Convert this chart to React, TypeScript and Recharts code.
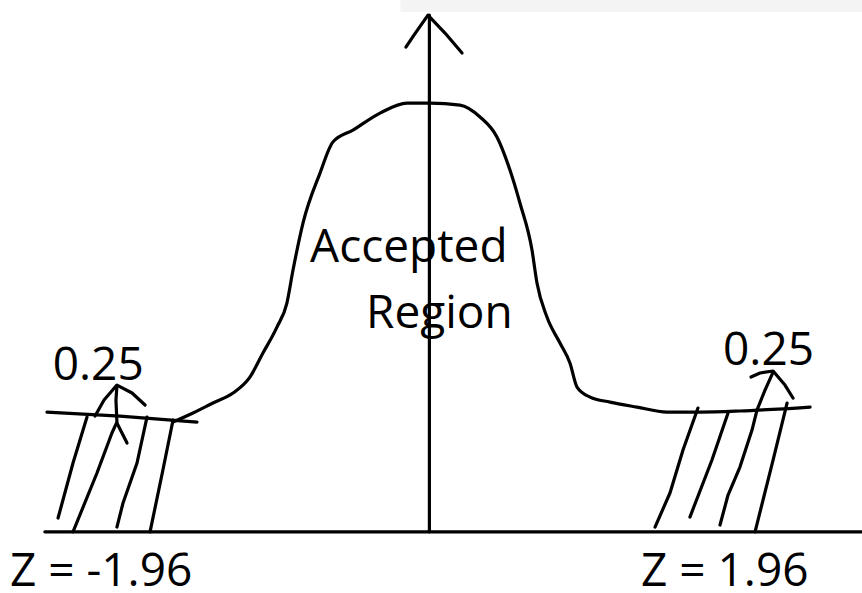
import { LineChart, Line, XAxis, YAxis, ReferenceDot, ReferenceArea } from 'recharts';

// x is z-score, y is density
const bellCurve = [
  { x: -1.594, y: 0.1032 }, { x: -1.47, y: 0.1117 }, { x: -1.346, y: 0.1211 },
  { x: -1.221, y: 0.1305 }, { x: -1.116, y: 0.1455 }, { x: -1.035, y: 0.1681 },
  { x: -0.948, y: 0.1925 }, { x: -0.886, y: 0.2151 }, { x: -0.848, y: 0.2461 },
  { x: -0.786, y: 0.2903 }, { x: -0.68, y: 0.3373 }, { x: -0.6, y: 0.3665 },
  { x: -0.475, y: 0.3777 }, { x: -0.307, y: 0.3937 }, { x: -0.139, y: 0.4031 },
  { x: 0.004, y: 0.4031 }, { x: 0.19, y: 0.4012 }, { x: 0.315, y: 0.39 },
  { x: 0.42, y: 0.3712 }, { x: 0.501, y: 0.3401 }, { x: 0.563, y: 0.3091 },
  { x: 0.638, y: 0.2649 }, { x: 0.669, y: 0.2339 }, { x: 0.731, y: 0.2019 },
  { x: 0.812, y: 0.1775 }, { x: 0.874, y: 0.1587 }, { x: 0.918, y: 0.1361 },
  { x: 0.999, y: 0.1267 }, { x: 1.123, y: 0.122 }, { x: 1.291, y: 0.1173 },
  { x: 1.477, y: 0.1126 }, { x: 1.683, y: 0.1126 }, { x: 1.931, y: 0.1136 },
  { x: 2.367, y: 0.1173 },
];

const leftTail = [{ x: -2.378, y: 0.1126 }, { x: -1.924, y: 0.1088 }, { x: -1.445, y: 0.1032 }];
const baseline = [{ x: -2.391, y: 0 }, { x: 2.69, y: 0 }];
const yAxisLine = [{ x: 0, y: 0 }, { x: 0, y: 0.4858 }];
const yAxisArrow = [
  { x: -0.146, y: 0.4557 }, { x: -0.096, y: 0.467 }, { x: -0.009, y: 0.4858 },
  { x: 0.097, y: 0.4689 }, { x: 0.203, y: 0.4501 },
];

// hatching under the left tail
const leftHatch = [
  [{ x: -2.129, y: 0.1079 }, { x: -2.216, y: 0.0647 }, { x: -2.309, y: 0.013 }],
  [{ x: -1.943, y: 0.1371 }, { x: -1.949, y: 0.1239 }, { x: -1.943, y: 0.1032 }, { x: -1.974, y: 0.0929 }, { x: -2.067, y: 0.0553 }, { x: -2.216, y: 0 }],
  [{ x: -2.079, y: 0.1089 }, { x: -2.023, y: 0.1239 }, { x: -1.943, y: 0.138 }, { x: -1.849, y: 0.1305 }, { x: -1.768, y: 0.1192 }],
  [{ x: -1.943, y: 0.1023 }, { x: -1.88, y: 0.0835 }],
  [{ x: -1.756, y: 0.1079 }, { x: -1.818, y: 0.0647 }, { x: -1.905, y: 0.0271 }, { x: -1.943, y: 0.0045 }],
  [{ x: -1.594, y: 0.1051 }, { x: -1.657, y: 0.0581 }, { x: -1.737, y: 0 }],
];

// hatching under the right tail
const rightHatch = [
  [{ x: 1.67, y: 0.1164 }, { x: 1.577, y: 0.0769 }, { x: 1.496, y: 0.0365 }, { x: 1.403, y: 0.0045 }],
  [{ x: 1.857, y: 0.1117 }, { x: 1.757, y: 0.0675 }, { x: 1.62, y: 0.0139 }],
  [{ x: 2.137, y: 0.1502 }, { x: 2.087, y: 0.1333 }, { x: 2.037, y: 0.1145 }, { x: 2.006, y: 0.0957 }, { x: 1.931, y: 0.0609 }, { x: 1.857, y: 0.0346 }, { x: 1.807, y: 0.0064 }],
  [{ x: 2.224, y: 0.1211 }, { x: 2.137, y: 0.0675 }, { x: 2.025, y: 0 }],
  [{ x: 2.0, y: 0.1455 }, { x: 2.056, y: 0.1493 }, { x: 2.137, y: 0.1512 }, { x: 2.211, y: 0.138 }, { x: 2.261, y: 0.1258 }],
];

const labels = [
  { text: 'Accepted', x: -0.742, y: 0.2536, size: 46 },
  { text: 'Region', x: -0.394, y: 0.1916, size: 46 },
  { text: '0.25', x: -2.342, y: 0.1427, size: 46 },
  { text: '0.25', x: 1.826, y: 0.1568, size: 46 },
  { text: 'Z = -1.96', x: -2.608, y: -0.051, size: 46 },
  { text: 'Z = 1.96', x: 1.316, y: -0.051, size: 46 },
];

const stroke = (key: string, data: { x: number; y: number }[], curve = false) => (
  <Line
    key={key}
    data={data}
    dataKey="y"
    type={curve ? 'monotone' : 'linear'}
    stroke="#000"
    strokeWidth={3.2}
    strokeLinecap="round"
    strokeLinejoin="round"
    dot={false}
    activeDot={false}
    isAnimationActive={false}
  />
);

export default function App() {
  return (
    <div style={{ position: 'absolute', left: 0, top: 0, background: '#fff' }}>
      <LineChart width={862} height={593} margin={{ top: 0, right: 0, bottom: 0, left: 0 }}>
        <XAxis type="number" dataKey="x" domain={[-2.67, 2.69]} allowDataOverflow hide />
        <YAxis type="number" domain={[-0.0575, 0.5]} allowDataOverflow hide />
        <ReferenceArea x1={-0.18} x2={2.69} y1={0.4887} y2={0.5} fill="#f4f4f4" fillOpacity={1} stroke="none" />
        {stroke('base', baseline)}
        {stroke('axis', yAxisLine)}
        {stroke('arrow', yAxisArrow)}
        {stroke('tail', leftTail)}
        {stroke('curve', bellCurve, true)}
        {leftHatch.map((d, i) => stroke(`lh${i}`, d))}
        {rightHatch.map((d, i) => stroke(`rh${i}`, d))}
        {labels.map((l, i) => (
          <ReferenceDot
            key={`lbl${i}`}
            x={l.x}
            y={l.y}
            r={0}
            shape={(p: any) => (
              <text x={p.cx} y={p.cy} fontFamily="'Open Sans', sans-serif" fontSize={l.size} fill="#000">
                {l.text}
              </text>
            )}
          />
        ))}
      </LineChart>
    </div>
  );
}
